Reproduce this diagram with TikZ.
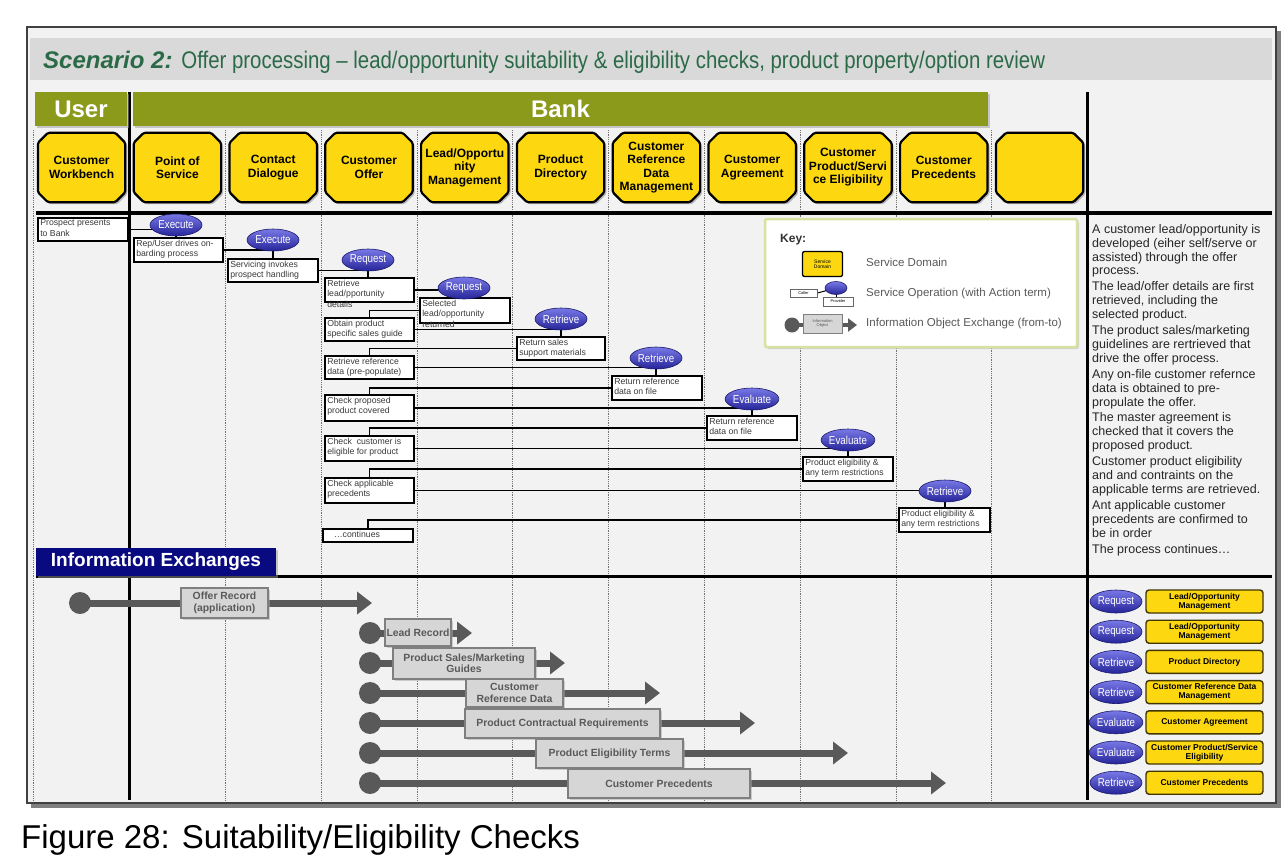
\documentclass[tikz,border=0pt]{standalone}
\usepackage{fontspec}
\setmainfont{Liberation Sans}
\newfontfamily\narrowf[FakeStretch=0.85]{Liberation Sans}
\usetikzlibrary{shapes.geometric,shapes.misc,arrows.meta,shadows}
\pgfdeclarelayer{bg}
\pgfdeclarelayer{conn}
\pgfsetlayers{bg,conn,main}
\definecolor{bgc}{HTML}{F2F2F2}
\definecolor{band}{HTML}{D9D9D9}
\definecolor{olive}{HTML}{8C9A1C}
\definecolor{domy}{HTML}{FDD811}
\definecolor{navyb}{HTML}{0A0A80}
\definecolor{opt}{HTML}{7878E6}
\definecolor{opb}{HTML}{25259A}
\definecolor{opd}{HTML}{1A1A6A}
\definecolor{ttl}{HTML}{2B6A47}
\definecolor{ig}{HTML}{595959}
\definecolor{ibf}{HTML}{D6D6D6}
\definecolor{ibd}{HTML}{7F7F7F}
\definecolor{keyb}{HTML}{D5E2A0}
\definecolor{txt}{HTML}{3A3A3A}
\newcommand\pbox[6]{%
  \node[pb, minimum width={#4-#2}, minimum height={#5-#3}] (#1) at ({(#2+#4)/2},{(#3+#5)/2}) {};
  \node[pt] (#1t) at (#1.north west) {#6};}
\newcommand\octa[1]{%
  \filldraw[octo] ([xshift=10pt]#1.north west) -- ([xshift=-10pt]#1.north east) -- ([yshift=-10pt]#1.north east) -- ([yshift=10pt]#1.south east) -- ([xshift=-10pt]#1.south east) -- ([xshift=10pt]#1.south west) -- ([yshift=10pt]#1.south west) -- ([yshift=-10pt]#1.north west) -- cycle;}
\begin{document}
\begin{tikzpicture}[x=1pt,y=-1pt,
 dom/.style={rectangle, minimum width=87, minimum height=69, inner sep=0, align=center, font=\bfseries\fontsize{12}{13.5}\selectfont},
 octo/.style={draw=black, line width=2.2pt, fill=domy, rounded corners=1.5pt, drop shadow={shadow xshift=2pt,shadow yshift=-2pt,fill=black!50}},
 banner/.style={fill=olive, text=white, font=\bfseries\fontsize{24}{24}\selectfont, inner sep=0, drop shadow={shadow xshift=1.5pt,shadow yshift=-1.5pt,fill=black!40}},
 pb/.style={draw=black, line width=1.8pt, fill=white, inner sep=0},
 pt/.style={anchor=north west, align=left, inner sep=0, xshift=3pt, yshift=-2.5pt, text=txt, font=\fontsize{8.7}{10.6}\selectfont},
 sop/.style={ellipse, minimum width=52, minimum height=22, inner sep=0, top color=opt, bottom color=opb, draw=opd, line width=0.6pt, text=white, font=\narrowf\fontsize{11.5}{11.5}\selectfont},
 cn/.style={line width=1.8pt, draw=black},
 istart/.style={circle, fill=ig, minimum size=22, inner sep=0},
 ibox/.style={fill=ibf, draw=ibd, line width=1.2pt, inner sep=0, align=center, text=ig, font=\bfseries\fontsize{10.4}{11.5}\selectfont, drop shadow={shadow xshift=1.5pt,shadow yshift=-1.5pt,fill=black!35}},
 iarr/.style={draw=ig, line width=7pt, -{Triangle[length=15pt,width=22pt]}},
 lgbox/.style={rounded corners=3pt, fill=domy, draw=black!75!domy, line width=1.4pt, minimum width=117, minimum height=23, inner sep=0, align=center, font=\bfseries\fontsize{8.5}{9}\selectfont},
 kt/.style={anchor=west, inner sep=0, text=ig, font=\fontsize{11.5}{12}\selectfont}
]
\useasboundingbox (0,0) rectangle (1287,863);
\begin{pgfonlayer}{bg}
 \fill[black!50] (31,31) rectangle (1281,808);
 \filldraw[fill=bgc, draw=black!75, line width=1.2pt] (27,27) rectangle (1276,803);
 \fill[band] (30,38) rectangle (1272,80);
 \foreach \k in {0,2,3,4,5,6,7,8,9,10}
   \draw[densely dotted, black!55, line width=0.8pt] ({33.7+95.8*\k},130) -- ({33.7+95.8*\k},800);
 \draw[line width=3pt] (129.5,92) -- (129.5,800);
 \draw[line width=3pt] (1087.5,92) -- (1087.5,800);
 \draw[line width=4pt] (36,213) -- (1272,213);
 \draw[line width=3pt] (36,576) -- (1272,576);
 % key box
 \node[draw=keyb, line width=2.5pt, fill=white, rounded corners=2pt, minimum width=312, minimum height=128, inner sep=0, drop shadow={shadow xshift=2pt,shadow yshift=-2pt,fill=black!30}] (key) at (921,283) {};
\end{pgfonlayer}

% title
\node[anchor=base west, inner sep=0, text=ttl, font=\fontsize{24}{24}\selectfont] (title) at (43,68) {\textbf{\textit{Scenario 2:}} {\narrowf Offer processing – lead/opportunity suitability \& eligibility checks, product property/option review}};

% banners
\node[banner, minimum width=92, minimum height=34] (user) at (81,109) {User};
\node[banner, minimum width=855, minimum height=34] (bank) at (560.5,109) {Bank};

% service domains
\foreach \i/\n/\t in {0/dcw/{Customer\\Workbench}, 1/dpos/{Point of\\Service}, 2/dcd/{Contact\\Dialogue}, 3/dco/{Customer\\Offer}, 4/dlom/{Lead/Opportu\\nity\\Management}, 5/dpd/{Product\\Directory}, 6/dcrd/{Customer\\Reference\\Data\\Management}, 7/dca/{Customer\\Agreement}, 8/dcpe/{Customer\\Product/Servi\\ce Eligibility}, 9/dcp/{Customer\\Precedents}, 10/demp/{}}
  \node[dom] (\n) at ({81.6+95.8*\i},167.5) {\t};
\begin{pgfonlayer}{conn}
 \foreach \n in {dcw,dpos,dcd,dco,dlom,dpd,dcrd,dca,dcpe,dcp,demp} {\octa{\n}}
\end{pgfonlayer}

% process boxes
\pbox{prospect}{38}{218}{128}{241}{Prospect presents\\to Bank}
\pbox{repuser}{134}{238}{223}{262}{Rep/User drives on-\\barding process}
\pbox{servicing}{228}{259}{318}{282}{Servicing invokes\\prospect handling}
\pbox{retrieve}{325}{278}{414}{302}{Retrieve\\lead/pportunity\\details}
\pbox{selected}{420}{298}{510}{323}{Selected\\lead/opportunity\\returned}
\pbox{obtain}{325}{318}{414}{341}{Obtain product\\specific sales guide}
\pbox{retsales}{517}{337}{605}{360}{Return sales\\support materials}
\pbox{retref}{325}{356}{414}{379}{Retrieve reference\\data (pre-populate)}
\pbox{refdata1}{612}{376}{702}{400}{Return reference\\data on file}
\pbox{checkprop}{325}{395}{414}{421}{Check proposed\\product covered}
\pbox{refdata2}{707}{416}{797}{440}{Return reference\\data on file}
\pbox{checkcust}{325}{436}{414}{461}{Check \ customer is\\eligible for product}
\pbox{elig1}{803}{457}{893}{481}{Product eligibility \&\\any term restrictions}
\pbox{checkappl}{325}{478}{414}{503}{Check applicable\\precedents}
\pbox{elig2}{899}{508}{990}{532}{Product eligibility \&\\any term restrictions}
\pbox{cont}{323}{529}{413}{542}{\quad…continues}

% service operations
\node[sop] (e1) at (176,225) {Execute};
\node[sop] (e2) at (273,240) {Execute};
\node[sop] (r1) at (368,260) {Request};
\node[sop] (r2) at (464,288) {Request};
\node[sop] (rt1) at (561,319) {Retrieve};
\node[sop] (rt2) at (656,358) {Retrieve};
\node[sop] (ev1) at (752,399) {Evaluate};
\node[sop] (ev2) at (848,440) {Evaluate};
\node[sop] (rt3) at (945,491) {Retrieve};

\begin{pgfonlayer}{conn}
 \draw[cn] (prospect.east) -- (prospect.east -| e1.center);
 \draw[cn] (e1.center) -- (e1.center |- repuser.north);
 \draw[cn] (repuser.east) -- (repuser.east -| e2.center);
 \draw[cn] (e2.center) -- (e2.center |- servicing.north);
 \draw[cn] (servicing.east) -- (servicing.east -| r1.center);
 \draw[cn] (r1.center) -- (r1.center |- retrieve.north);
 \draw[cn] (retrieve.east) -- (retrieve.east -| r2.center);
 \draw[cn] (r2.center) -- (r2.center |- selected.north);
 \draw[cn] (selected.west) -| (obtain.north);
 \draw[cn] (obtain.east) -- (obtain.east -| rt1.center);
 \draw[cn] (rt1.center) -- (rt1.center |- retsales.north);
 \draw[cn] (retsales.west) -| (retref.north);
 \draw[cn] (retref.east) -- (retref.east -| rt2.center);
 \draw[cn] (rt2.center) -- (rt2.center |- refdata1.north);
 \draw[cn] (refdata1.west) -| (checkprop.north);
 \draw[cn] (checkprop.east) -- (checkprop.east -| ev1.center);
 \draw[cn] (ev1.center) -- (ev1.center |- refdata2.north);
 \draw[cn] (refdata2.west) -| (checkcust.north);
 \draw[cn] (checkcust.east) -- (checkcust.east -| ev2.center);
 \draw[cn] (ev2.center) -- (ev2.center |- elig1.north);
 \draw[cn] (elig1.west) -| (checkappl.north);
 \draw[cn] (checkappl.east) -- (checkappl.east -| rt3.center);
 \draw[cn] (rt3.center) -- (rt3.center |- elig2.north);
 \draw[cn] (elig2.west) -| (cont.north);
\end{pgfonlayer}

% key contents
\node[anchor=west, font=\bfseries\fontsize{12}{12}\selectfont, text=black!80, inner sep=0] (keyt) at (780,240) {Key:};
\node[rounded corners=2pt, fill=domy, draw=black, line width=1.3pt, minimum width=40, minimum height=25, inner sep=0, align=center, font=\fontsize{5}{5.5}\selectfont] (ksd) at (822.5,264) {Service\\Domain};
\node[kt] (kt1) at (866,262) {Service Domain};
\node[draw=black!60, fill=white, line width=0.8pt, minimum width=27, minimum height=8, inner sep=0, font=\fontsize{4}{4}\selectfont] (kcaller) at (803.5,293) {Caller};
\node[sop, minimum width=22, minimum height=13] (kop) at (836,288) {};
\node[draw=black!60, fill=white, line width=0.8pt, minimum width=30, minimum height=9, inner sep=0, font=\fontsize{4}{4}\selectfont] (kprov) at (838,301.5) {Provider};
\node[kt] (kt2) at (866,294) {Service Operation (with Action term)};
\node[circle, fill=ig, minimum size=15, inner sep=0] (kis) at (792,325) {};
\node[fill=ibf, draw=ibd, line width=.8pt, minimum width=39, minimum height=19, inner sep=0, align=center, text=ig, font=\fontsize{4}{4.5}\selectfont] (kib) at (822.5,323.5) {Information\\Object};
\coordinate (kie) at (857,325);
\node[kt] (kt3) at (866,324) {Information Object Exchange (from-to)};
\begin{pgfonlayer}{conn}
 \draw[line width=1pt] (kcaller.east) -- (kop.center);
 \draw[line width=1pt] (kop.center) -- (kop.center |- kprov.north);
 \draw[draw=ig, line width=4pt, -{Triangle[length=9pt,width=13pt]}] (kis.center) -- (kie);
\end{pgfonlayer}

% description
\node[anchor=north west, align=left, inner sep=0, text=black!85, font=\fontsize{12.5}{13.9}\selectfont] (desc) at (1092,224) {A customer lead/opportunity is\\
developed (eiher self/serve or\\
assisted) through the offer\\
process.\\[2pt]
The lead/offer details are first\\
retrieved, including the\\
selected product.\\[2pt]
The product sales/marketing\\
guidelines are rertrieved that\\
drive the offer process.\\[2pt]
Any on-file customer refernce\\
data is obtained to pre-\\
propulate the offer.\\[2pt]
The master agreement is\\
checked that it covers the\\
proposed product.\\[2pt]
Customer product eligibility\\
and and contraints on the\\
applicable terms are retrieved.\\[2pt]
Ant applicable customer\\
precedents are confirmed to\\
be in order\\[2pt]
The process continues…};

% information exchanges
\node[fill=navyb, text=white, font=\bfseries\fontsize{19}{19}\selectfont, minimum width=240, minimum height=28, inner sep=0, drop shadow={shadow xshift=2pt,shadow yshift=-2pt,fill=black!40}] (iex) at (156,562) {Information Exchanges};

\node[istart] (s1) at (80,603) {};
\node[ibox, minimum width=87, minimum height=30] (x1) at (224.5,603) {Offer Record\\(application)};
\coordinate (t1) at (372,603);
\node[istart] (s2) at (370,633) {};
\node[ibox, minimum width=66, minimum height=27] (x2) at (418,632.5) {Lead Record};
\coordinate (t2) at (472,633);
\node[istart] (s3) at (370,663) {};
\node[ibox, minimum width=142, minimum height=31] (x3) at (464,663.5) {Product Sales/Marketing\\Guides};
\coordinate (t3) at (565,663);
\node[istart] (s4) at (370,693) {};
\node[ibox, minimum width=97, minimum height=28] (x4) at (514.5,693) {Customer\\Reference Data};
\coordinate (t4) at (660,693);
\node[istart] (s5) at (370,723) {};
\node[ibox, minimum width=195, minimum height=29] (x5) at (562.5,723.5) {Product Contractual Requirements};
\coordinate (t5) at (755,723);
\node[istart] (s6) at (370,753) {};
\node[ibox, minimum width=147, minimum height=29] (x6) at (609.5,753.5) {Product Eligibility Terms};
\coordinate (t6) at (848,753);
\node[istart] (s7) at (370,783) {};
\node[ibox, minimum width=182, minimum height=29] (x7) at (659,783.5) {Customer Precedents};
\coordinate (t7) at (946,783);
\begin{pgfonlayer}{conn}
 \foreach \j in {1,...,7} \draw[iarr] (s\j.center) -- (t\j);
\end{pgfonlayer}

% legend
\foreach \i/\op/\t in {0/Request/{Lead/Opportunity\\Management}, 1/Request/{Lead/Opportunity\\Management}, 2/Retrieve/{Product Directory}, 3/Retrieve/{Customer Reference Data\\Management}, 4/Evaluate/{Customer Agreement}, 5/Evaluate/{Customer Product/Service\\Eligibility}, 6/Retrieve/{Customer Precedents}}{
  \node[sop, minimum height=23] (lo\i) at (1116,{601.5+30.2*\i}) {\op};
  \node[lgbox] (lb\i) at (1204.5,{601.5+30.2*\i}) {\t};
}

% caption
\node[anchor=base west, inner sep=0, font=\fontsize{33}{33}\selectfont] (cap) at (21,848) {Figure 28: Suitability/Eligibility Checks};
\end{tikzpicture}
\end{document}
